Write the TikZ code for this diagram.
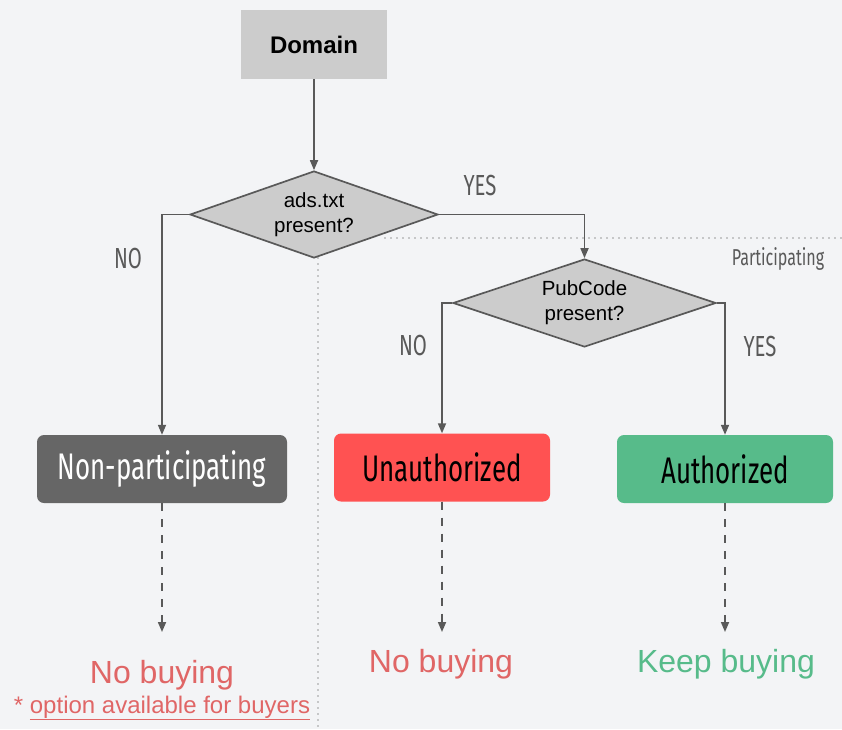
\documentclass[tikz,border=0pt]{standalone}
\usepackage{fontspec}
\setmainfont{Liberation Sans}
\newfontfamily\condfont[FakeStretch=0.7]{Fira Sans}
\usetikzlibrary{arrows.meta, shapes.geometric}
\definecolor{pagebg}{HTML}{F3F4F6}
\definecolor{inkline}{HTML}{595959}
\definecolor{boxgray}{HTML}{CCCCCC}
\definecolor{boxdark}{HTML}{666666}
\definecolor{boxred}{HTML}{FF5252}
\definecolor{boxgreen}{HTML}{57BB8A}
\definecolor{textred}{HTML}{E06666}
\definecolor{dotgray}{HTML}{999999}

\begin{document}
\begin{tikzpicture}[x=1pt, y=-1pt,
    flow/.style={-{Triangle[length=10pt,width=8pt]}, inkline, line width=1.7pt},
    lazy/.style={flow, dash pattern=on 8pt off 8pt},
    split/.style={dotgray, line width=1.8pt, line cap=round,
                  dash pattern=on 0pt off 6pt},
    ask/.style={diamond, draw=inkline, line width=1.7pt, fill=boxgray,
                aspect=2.85, inner sep=0pt, align=center,
                font=\fontsize{20.5}{25}\selectfont},
    state/.style={rounded corners=7pt, inner sep=0pt, minimum height=68pt,
                  font=\condfont\fontsize{37}{40}\selectfont},
    branch/.style={text=inkline, font=\condfont\fontsize{29}{32}\selectfont},
    verdict/.style={font=\fontsize{32}{36}\selectfont}]
  \fill[pagebg] (0,0) rectangle (842,729);
  \useasboundingbox (0,0) rectangle (842,729);

  % participation split
  \draw[split] (385,238) -- (842,238);
  \draw[split] (318,258) -- (318,729);
  \node[text=inkline, font=\condfont\fontsize{23}{24}\selectfont]
    (partlbl) at (778,259) {Participating};

  \node[fill=boxgray, minimum width=146pt, minimum height=69pt,
        font=\bfseries\fontsize{24}{28}\selectfont] (domain) at (314,44.5) {Domain};
  \node[ask, minimum width=248pt, minimum height=87pt] (q1) at (314,214.5)
    {ads.txt\\present?};
  \node[ask, minimum width=263pt, minimum height=88pt] (q2) at (584.5,303)
    {PubCode\\present?};

  \node[state, fill=boxdark, text=white, minimum width=250pt] (nonpart)
    at (162,469) {Non-participating};
  \node[state, fill=boxred, minimum width=216pt] (unauth)
    at (442,467.5) {Unauthorized};
  \node[state, fill=boxgreen, minimum width=216pt] (auth)
    at (725,469) {Authorized};

  \draw[flow] (domain) -- (q1);
  \draw[flow] (q1.west) -| (nonpart.north);
  \draw[flow] (q1.east) -| (q2.north);
  \draw[flow] (q2.west) -| (unauth.north);
  \draw[flow] (q2.east) -| (auth.north);
  \node[branch] (no1) at (128,259) {NO};
  \node[branch] (yes1) at (480,186) {YES};
  \node[branch] (no2) at (413,345) {NO};
  \node[branch] (yes2) at (760,346) {YES};

  \node[verdict, text=textred] (nobuy1) at (162,675) {No buying};
  \node[verdict, text=textred] (nobuy2) at (441,664) {No buying};
  \node[verdict, text=boxgreen] (keepbuy) at (726,664) {Keep buying};
  \node[text=textred, font=\fontsize{24}{26}\selectfont] (note) at (162,708)
    {* \underline{option available for buyers}};

  \foreach \st in {nonpart, unauth, auth}{%
    \coordinate (\st-end) at (\st.south |- 0,632);
    \draw[lazy] (\st.south) -- (\st-end);}
\end{tikzpicture}
\end{document}
